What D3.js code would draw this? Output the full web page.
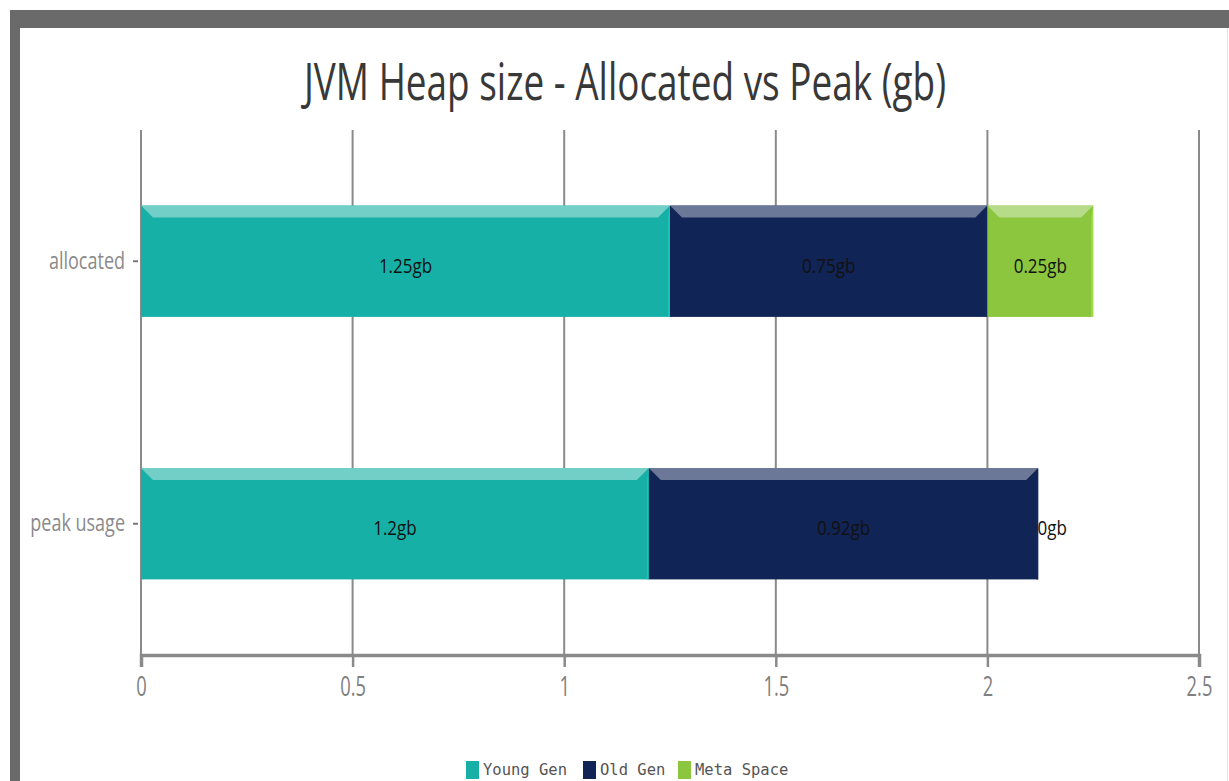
<!DOCTYPE html>
<html>
<head>
<meta charset="utf-8">
<script src="https://cdn.jsdelivr.net/npm/d3@7"></script>
<style>
  html, body { margin: 0; padding: 0; background: #fff; }
  svg { display: block; }
</style>
</head>
<body>
<svg id="chart" width="1229" height="781"></svg>
<script>
// Heap usage, in gigabytes
const categories = ["allocated", "peak usage"];
const seriesNames = ["Young Gen", "Old Gen", "Meta Space"];
const youngGen = [1.25, 1.2];
const oldGen = [0.75, 0.92];
const metaSpace = [0.25, 0];
const xTicks = [0, 0.5, 1, 1.5, 2, 2.5];

const colors = ["#17b0a6", "#112456", "#8cc63e"];
const topColors = ["#72cfc8", "#6b7897", "#b6dc8a"];

const svg = d3.select("#chart");
const W = 1229, H = 781;
const FONT = "'Open Sans', 'DejaVu Sans', sans-serif";

// narrow text: glyphs squeezed horizontally around the anchor point
function narrowText(sel, x, y, sx) {
  return sel.append("text")
    .attr("transform", `translate(${x},${y}) scale(${sx},1)`)
    .attr("font-family", FONT);
}

// frame around the chart panel
svg.append("rect").attr("x", 10).attr("y", 10).attr("width", W - 10).attr("height", 18).attr("fill", "#6a6a6a");
svg.append("rect").attr("x", 10).attr("y", 10).attr("width", 10).attr("height", H - 10).attr("fill", "#6a6a6a");
svg.append("line").attr("x1", 1227.5).attr("x2", 1227.5).attr("y1", 28).attr("y2", H).attr("stroke", "#e4e4e4").attr("stroke-width", 1);

narrowText(svg, 625, 100, 0.71)
  .attr("text-anchor", "middle")
  .attr("font-size", 52)
  .attr("fill", "#383838")
  .text("JVM Heap size - Allocated vs Peak (gb)");

const plot = { left: 141, right: 1199, top: 130, bottom: 655 };

const x = d3.scaleLinear().domain([0, 2.5]).range([plot.left, plot.right]);
const y = d3.scaleBand().domain(categories).range([plot.top, plot.bottom])
  .paddingInner(0.576).paddingOuter(0.288);

// vertical grid lines
svg.append("g").selectAll("line").data(xTicks).join("line")
  .attr("x1", d => x(d)).attr("x2", d => x(d))
  .attr("y1", plot.top).attr("y2", plot.bottom)
  .attr("stroke", "#8a8a8a").attr("stroke-width", 2);

// x axis
const xAxis = svg.append("g").attr("transform", `translate(0,${plot.bottom})`)
  .call(d3.axisBottom(x).tickValues(xTicks).tickFormat(d3.format("~g")).tickSize(12).tickPadding(10));
xAxis.select(".domain").attr("stroke", "#8a8a8a").attr("stroke-width", 3.5);
xAxis.selectAll(".tick line").attr("stroke", "#8a8a8a").attr("stroke-width", 2.5);
xAxis.selectAll(".tick text")
  .attr("font-family", FONT)
  .attr("font-size", 27).attr("fill", "#808080")
  .attr("transform", "scale(0.68,1)");

// y axis (labels and short ticks only)
const yAxis = svg.append("g").attr("transform", `translate(${plot.left - 3},0)`)
  .call(d3.axisLeft(y).tickSize(5).tickPadding(0).tickFormat(""));
yAxis.select(".domain").remove();
yAxis.selectAll(".tick line").attr("stroke", "#777").attr("stroke-width", 2);
yAxis.selectAll(".tick").each(function (d) {
  narrowText(d3.select(this), -13, 0, 0.75)
    .attr("text-anchor", "end").attr("dy", "0.32em")
    .attr("font-size", 24).attr("fill", "#8a8a8a")
    .text(d);
});

// stacked segments
const rows = categories.map((c, i) => ({ cat: c, "Young Gen": youngGen[i], "Old Gen": oldGen[i], "Meta Space": metaSpace[i] }));
const stacked = d3.stack().keys(seriesNames)(rows);

const bevel = 12;
const fmt = v => d3.format("~g")(v) + "gb";

stacked.forEach((layer, si) => {
  const g = svg.append("g");
  layer.forEach(seg => {
    const x0 = x(seg[0]), x1 = x(seg[1]);
    const y0 = y(seg.data.cat), bh = y.bandwidth();
    const w = x1 - x0;
    if (w > 0) {
      g.append("rect").attr("x", x0).attr("y", y0).attr("width", w).attr("height", bh)
        .attr("fill", colors[si]);
      g.append("path")
        .attr("d", `M${x0},${y0}L${x1},${y0}L${x1 - bevel},${y0 + bevel}L${x0 + bevel},${y0 + bevel}Z`)
        .attr("fill", topColors[si]);
      g.append("path")
        .attr("d", `M${x1},${y0}L${x1},${y0 + bh}L${x1 - 2},${y0 + bh}L${x1 - 2},${y0 + bevel}Z`)
        .attr("fill", d3.color(colors[si]).brighter(0.3));
    }
    // value label at segment centre (just past the end for empty segments)
    const v = seg[1] - seg[0];
    const lx = w > 0 ? (x0 + x1) / 2 : x1 + 14;
    narrowText(g, lx, y0 + bh / 2 + 5, 0.85)
      .attr("dy", "0.32em").attr("text-anchor", "middle")
      .attr("font-size", 20).attr("fill", "#111")
      .text(fmt(v));
  });
});

// legend
const legend = svg.append("g").attr("transform", "translate(466,761)");
const legendX = [0, 117, 212];
seriesNames.forEach((n, i) => {
  const lg = legend.append("g").attr("transform", `translate(${legendX[i]},0)`);
  lg.append("rect").attr("width", 13).attr("height", 18).attr("fill", colors[i]);
  lg.append("text").attr("x", 17).attr("y", 9).attr("dy", "0.35em")
    .attr("font-family", "'DejaVu Sans Mono', monospace")
    .attr("font-size", 15.5).attr("fill", "#555")
    .text(n);
});
</script>
</body>
</html>
